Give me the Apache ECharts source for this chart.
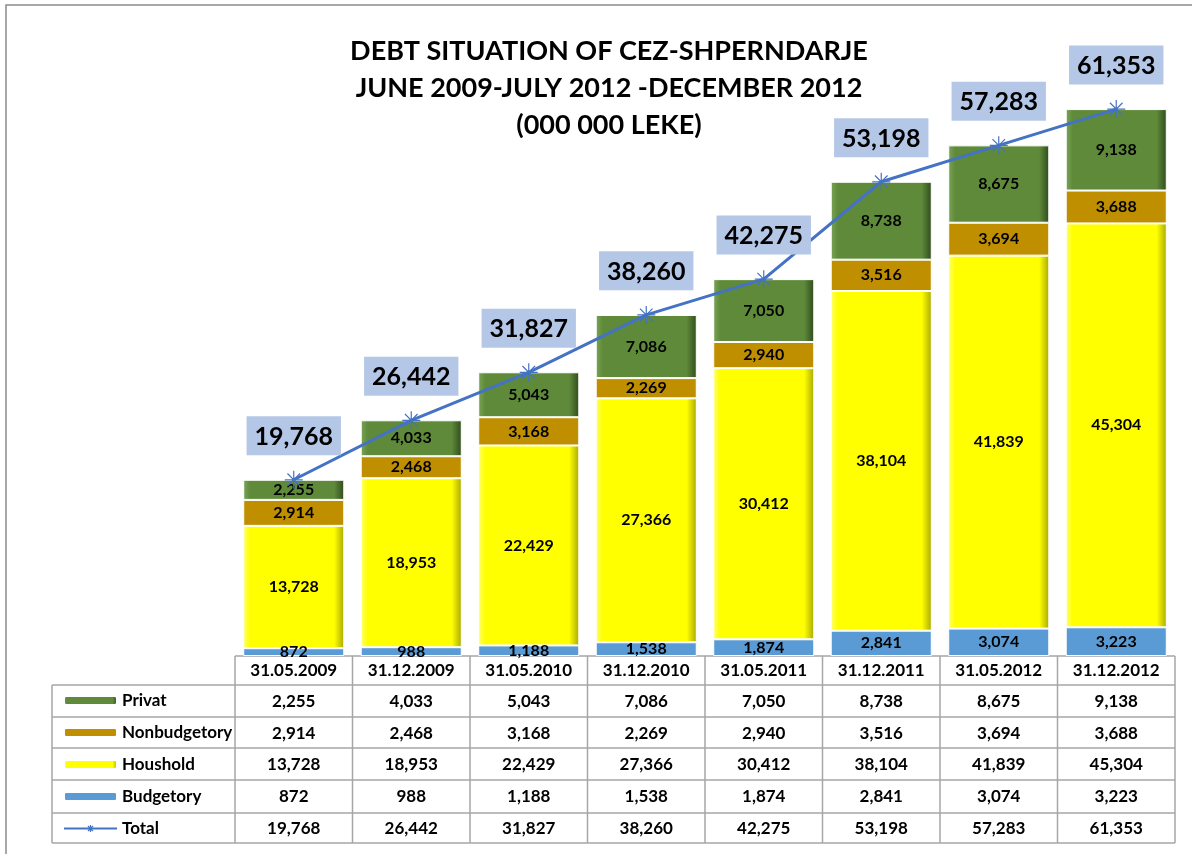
<!DOCTYPE html>
<html><head><meta charset="utf-8">
<script src="https://cdn.jsdelivr.net/npm/echarts@6/dist/echarts.min.js"></script>
<style>html,body{margin:0;padding:0;background:#fff}#c{width:1192px;height:854px}</style>
</head><body><div id="c"></div>
<script>
const categories = ['31.05.2009','31.12.2009','31.05.2010','31.12.2010','31.05.2011','31.12.2011','31.05.2012','31.12.2012'];
const privat = [2255,4033,5043,7086,7050,8738,8675,9138];
const nonbudgetory = [2914,2468,3168,2269,2940,3516,3694,3688];
const houshold = [13728,18953,22429,27366,30412,38104,41839,45304];
const budgetory = [872,988,1188,1538,1874,2841,3074,3223];
const total = [19768,26442,31827,38260,42275,53198,57283,61353];

const FONT = 'Lato, "Open Sans", sans-serif';
const fmt = v => v.toLocaleString('en-US');

const gridLeft = 235, gridRight = 17, gridTop = 32, gridBottom = 198;
const W = 1192, H = 854;
const plotW = W - gridLeft - gridRight;
const colW = plotW / categories.length;
const axisY = H - gridBottom;
const rowLines = [685, 717, 748, 780, 813, 843];
const tableLeft = 52, tableRight = W - gridRight;
const lineColor = '#a6a6a6';

const graphics = [];
graphics.push({type:'polyline', shape:{points:[[6,H+5],[6,5],[W+5,5]]}, style:{stroke:'#8c8c8c', lineWidth:1.5, fill:null}, silent:true});
graphics.push({type:'line', shape:{x1:gridLeft, y1:axisY, x2:tableRight, y2:axisY}, style:{stroke:lineColor, lineWidth:1.5}});
rowLines.forEach(y => graphics.push({type:'line', shape:{x1:tableLeft, y1:y, x2:tableRight, y2:y}, style:{stroke:lineColor, lineWidth:1.5}}));
graphics.push({type:'line', shape:{x1:tableLeft, y1:rowLines[0], x2:tableLeft, y2:rowLines[rowLines.length-1]}, style:{stroke:lineColor, lineWidth:1.5}});
for (let i = 0; i <= categories.length; i++) {
  const x = gridLeft + i * colW;
  graphics.push({type:'line', shape:{x1:x, y1:axisY, x2:x, y2:rowLines[rowLines.length-1]}, style:{stroke:lineColor, lineWidth:1.5}});
}

const bevel = (light, main, dark) => ({
  type:'linear', x:0, y:0, x2:1, y2:0,
  colorStops:[{offset:0,color:light},{offset:0.07,color:main},{offset:0.9,color:main},{offset:1,color:dark}]
});

const barLabel = {show:true, position:'inside', color:'#000', fontFamily:FONT, fontWeight:'bold', fontSize:16, formatter:p => fmt(p.value)};
const starPath = 'path://M0,-10L0,10M-10,0L10,0M-7,-7L7,7M-7,7L7,-7';

const chart = echarts.init(document.getElementById('c'), null, {renderer:'canvas'});
chart.setOption({
  animation:false,
  backgroundColor:'#fff',
  title:{
    text:'DEBT SITUATION OF CEZ-SHPERNDARJE\nJUNE 2009-JULY 2012 -DECEMBER 2012\n(000 000 LEKE)',
    left:604, top:28, textAlign:'center',
    textStyle:{fontFamily:FONT, fontWeight:'bold', fontSize:27, lineHeight:37, color:'#000'}
  },
  grid:{left:gridLeft, right:gridRight, top:gridTop, bottom:gridBottom},
  legend:{
    orient:'vertical', left:58, top:687, itemWidth:53, itemHeight:9, itemGap:15,
    textStyle:{fontFamily:FONT, fontWeight:'bold', fontSize:17, lineHeight:17, color:'#000'},
    data:['Privat','Nonbudgetory','Houshold','Budgetory',
      {name:'Total', itemStyle:{color:'#4472c4', borderColor:'#4472c4', borderWidth:1.2}}]
  },
  xAxis:{
    type:'category', data:categories,
    axisLine:{show:false}, axisTick:{show:false}, splitLine:{show:false},
    axisLabel:{
      interval:0, margin:0,
      formatter:(v, i) => ['{h|' + v + '}', '{v|' + fmt(privat[i]) + '}', '{v|' + fmt(nonbudgetory[i]) + '}', '{v|' + fmt(houshold[i]) + '}', '{v|' + fmt(budgetory[i]) + '}', '{v|' + fmt(total[i]) + '}'].join('\n'),
      rich:{
        h:{fontFamily:FONT, fontWeight:'bold', fontSize:17, lineHeight:30, color:'#000'},
        v:{fontFamily:FONT, fontWeight:'bold', fontSize:17, lineHeight:31.6, color:'#000'}
      }
    }
  },
  yAxis:{type:'value', min:0, max:70000, show:false},
  series:[
    {name:'Budgetory', type:'bar', stack:'a', data:budgetory, barCategoryGap:'14%',
     itemStyle:{color:'#5b9bd5', borderColor:'#fff', borderWidth:1}, label:barLabel},
    {name:'Houshold', type:'bar', stack:'a', data:houshold,
     itemStyle:{color:bevel('#ffff70','#ffff00','#a8a800'), borderColor:'#fff', borderWidth:1}, label:barLabel},
    {name:'Nonbudgetory', type:'bar', stack:'a', data:nonbudgetory,
     itemStyle:{color:'#bf8f00', borderColor:'#fff', borderWidth:1}, label:barLabel},
    {name:'Privat', type:'bar', stack:'a', data:privat,
     itemStyle:{color:bevel('#7aa556','#5e8a3a','#2f4a1c'), borderColor:'#fff', borderWidth:1}, label:barLabel},
    {name:'Total', type:'line', data:total, z:5,
     lineStyle:{color:'#4472c4', width:3},
     symbol:starPath, symbolSize:18,
     itemStyle:{color:'#4472c4', borderColor:'#4472c4', borderWidth:1.2},
     label:{show:true, position:'top', distance:15, formatter:p => fmt(p.value),
       fontFamily:FONT, fontWeight:'bold', fontSize:25, color:'#000',
       backgroundColor:'#b4c7e7', padding:[8,8,6,8]}}
  ],
  graphic:graphics
});
</script></body></html>
